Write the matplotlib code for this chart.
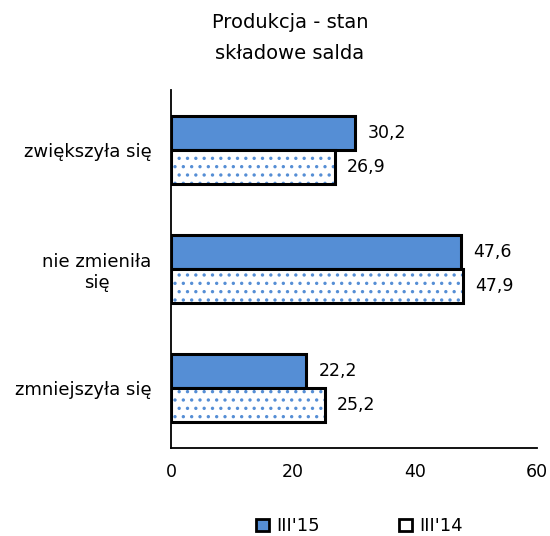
import numpy as np
import matplotlib.pyplot as plt
from matplotlib.patches import Patch

categories = ["zwiększyła się", "nie zmieniła\nsię", "zmniejszyła się"]
series_names = ["III'15", "III'14"]
values_15 = [30.2, 47.6, 22.2]
values_14 = [26.9, 47.9, 25.2]

blue = "#558ed5"
plt.rcParams['font.family'] = ['DejaVu Sans']
plt.rcParams['font.size'] = 12
plt.rcParams['hatch.linewidth'] = 1.2

fig = plt.figure(figsize=(5.5, 5.36), dpi=100)
ax = fig.add_axes([0.311, 0.164, 0.665, 0.668])

y = np.arange(len(categories))
h = 0.285

# current year - solid blue
ax.barh(y - h / 2, values_15, height=h, color=blue, edgecolor="black", linewidth=2.2)
# previous year - dotted: hatch layer then outline
ax.barh(y + h / 2, values_14, height=h, color="white", edgecolor=blue,
        hatch="..", linewidth=0)
ax.barh(y + h / 2, values_14, height=h, fill=False, edgecolor="black", linewidth=2.2)

for yi, v in zip(y - h / 2, values_15):
    ax.text(v + 2.0, yi, f"{v:.1f}".replace(".", ","), va="center", ha="left", fontsize=12.5)
for yi, v in zip(y + h / 2, values_14):
    ax.text(v + 2.0, yi, f"{v:.1f}".replace(".", ","), va="center", ha="left", fontsize=12.5)

ax.set_xlim(0, 60)
ax.set_xticks([0, 20, 40, 60])
ax.set_ylim(2.5, -0.5)
ax.set_yticks(y)
ax.set_yticklabels(categories, ha="right", multialignment="center", fontsize=13)
ax.tick_params(axis="y", length=0, pad=14)
ax.tick_params(axis="x", length=0, pad=11, labelsize=12.5)
ax.spines["top"].set_visible(False)
ax.spines["right"].set_visible(False)
ax.spines["left"].set_linewidth(1.3)
ax.spines["bottom"].set_linewidth(1.3)

fig.text(0.527, 0.929, "Produkcja - stan\nskładowe salda", ha="center", va="center",
         fontsize=14, linespacing=1.75)

handles = [Patch(facecolor=blue, edgecolor="black", linewidth=2),
           Patch(facecolor="white", edgecolor="black", linewidth=2)]
fig.legend(handles, series_names, loc="center", bbox_to_anchor=(0.654, 0.018), ncol=2,
           frameon=False, handlelength=0.7, handleheight=0.7, handletextpad=0.4,
           columnspacing=4.4, fontsize=13)

fig.savefig("out.png", dpi=100)
